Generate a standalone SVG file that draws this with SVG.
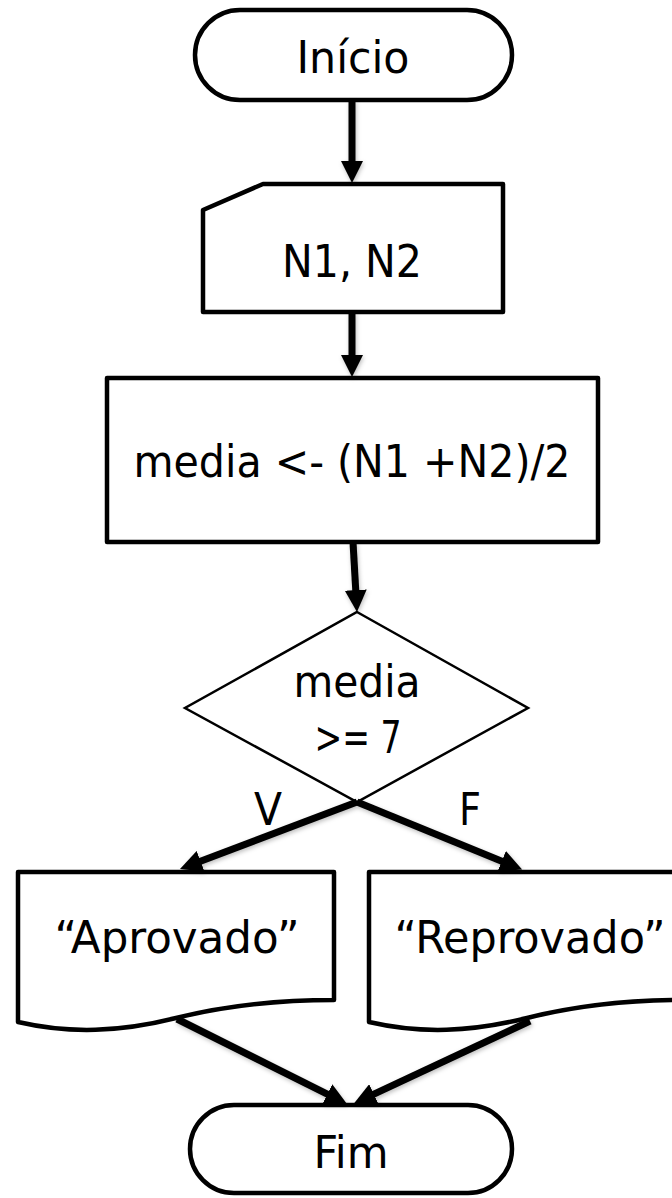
<svg xmlns="http://www.w3.org/2000/svg" width="672" height="1198" viewBox="0 0 672 1198">
<style>
.shape{fill:#fff;stroke:#000;stroke-width:4.5;stroke-linejoin:round}
.dia{fill:#fff;stroke:#000;stroke-width:2.5}
.lbl{font-family:"DejaVu Sans Condensed","DejaVu Sans",sans-serif;font-size:45px;fill:#000;text-anchor:middle}
.con{stroke:#000;stroke-width:7;fill:none;marker-end:url(#ah)}
</style>
<defs>
<marker id="ah" markerUnits="userSpaceOnUse" markerWidth="22" markerHeight="22" viewBox="0 0 22 22" refX="10" refY="11" orient="auto">
<path d="M0,0 L22,11 L0,22 z" fill="#000"/>
</marker>
<filter id="sh" x="-20%" y="-20%" width="140%" height="140%">
<feDropShadow dx="1" dy="2" stdDeviation="2" flood-color="#000" flood-opacity="0.25"/>
</filter>
</defs>
<g id="inicio">
<rect class="shape" x="195" y="10" width="317" height="90" rx="45" ry="45"/>
<text class="lbl" x="353" y="73" textLength="113" lengthAdjust="spacingAndGlyphs">Início</text>
</g>
<g id="entrada">
<path class="shape" d="M263,184 H503 V312 H203 V210 Z"/>
<text class="lbl" x="352" y="277" textLength="140" lengthAdjust="spacingAndGlyphs">N1, N2</text>
</g>
<g id="processo">
<rect class="shape" x="107" y="378" width="491" height="164"/>
<text class="lbl" x="352" y="477" textLength="437" lengthAdjust="spacingAndGlyphs">media &lt;- (N1 +N2)/2</text>
</g>
<g id="decisao">
<path class="dia" d="M357,612 L528,708 L357,802 L185,708 Z"/>
<text class="lbl" x="357" y="697" textLength="127" lengthAdjust="spacingAndGlyphs">media</text>
<text class="lbl" x="358" y="753" textLength="87" lengthAdjust="spacingAndGlyphs">&gt;= 7</text>
</g>
<g id="aprovado">
<path class="shape" d="M18,872 H334 V1000 C290,1000 232,1004 176,1018 C120,1032 70,1034 18,1022 Z"/>
<text class="lbl" x="177" y="953" textLength="245" lengthAdjust="spacingAndGlyphs">“Aprovado”</text>
</g>
<g id="reprovado">
<path class="shape" d="M369,872 H685 V1000 C641,1000 583,1004 527,1018 C471,1032 421,1034 369,1022 Z"/>
<text class="lbl" x="530" y="953" textLength="271" lengthAdjust="spacingAndGlyphs">“Reprovado”</text>
</g>
<g id="fim">
<rect class="shape" x="190" y="1105" width="322" height="88" rx="44" ry="44"/>
<text class="lbl" x="351" y="1168" textLength="75" lengthAdjust="spacingAndGlyphs">Fim</text>
</g>
<g id="connectors" filter="url(#sh)">
<line class="con" x1="352" y1="100" x2="352" y2="171"/>
<line class="con" x1="352" y1="312" x2="352" y2="365"/>
<line class="con" x1="353" y1="542" x2="356.3" y2="600"/>
<line class="con" x1="357" y1="802" x2="191.2" y2="864.8"/>
<line class="con" x1="357" y1="802" x2="511" y2="865"/>
<line class="con" x1="177" y1="1019" x2="336.3" y2="1098.6"/>
<line class="con" x1="530" y1="1021" x2="364.8" y2="1098.4"/>
</g>
<g id="labels">
<text class="lbl" x="268" y="825" textLength="28" lengthAdjust="spacingAndGlyphs">V</text>
<text class="lbl" x="470" y="825" textLength="22" lengthAdjust="spacingAndGlyphs">F</text>
</g>
</svg>
